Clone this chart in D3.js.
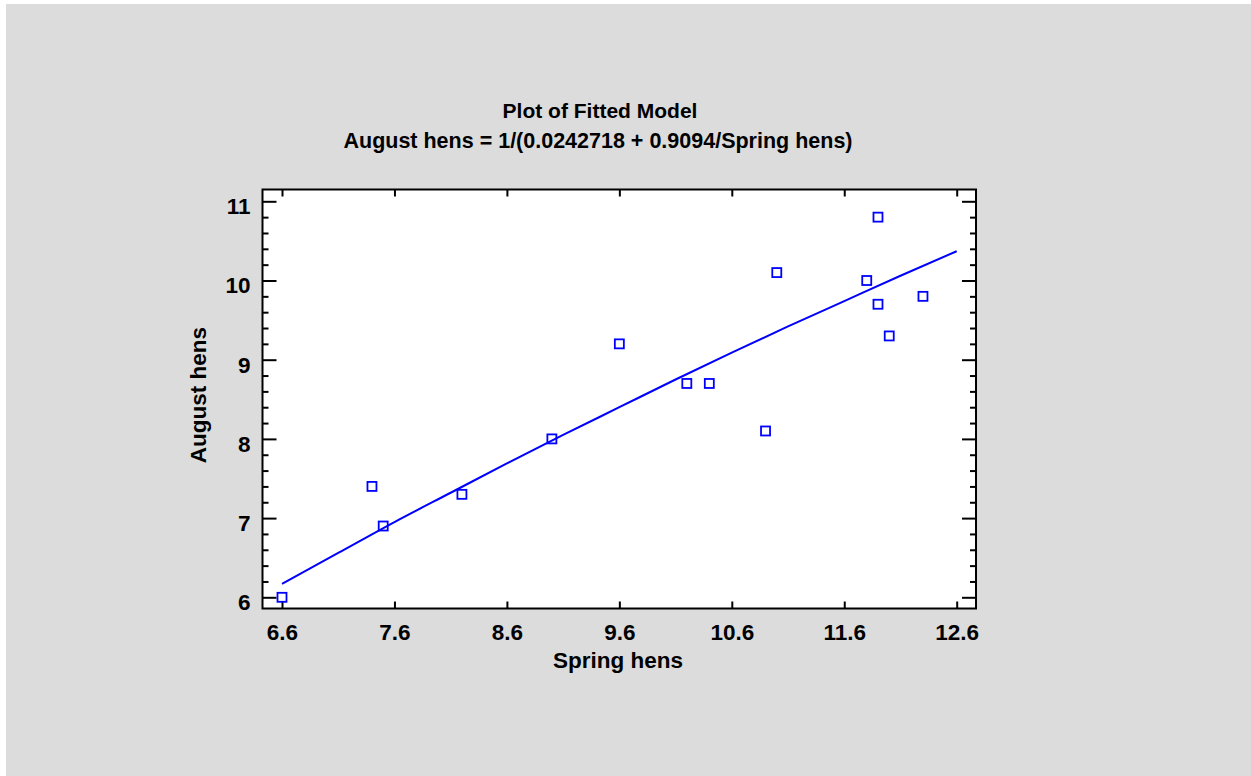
<!DOCTYPE html>
<html>
<head>
<meta charset="utf-8">
<title>Plot of Fitted Model</title>
<script src="https://d3js.org/d3.v7.min.js"></script>
<style>
  body { margin: 0; background: #ffffff; }
  text { font-family: "Liberation Sans", Arial, sans-serif; font-weight: bold; fill: #000; }
</style>
</head>
<body>
<div id="chart"></div>
<script>

// data
var springHens = [6.6, 7.4, 7.5, 8.2, 9.0, 9.6, 10.2, 10.4, 10.9, 11.0, 11.8, 11.9, 11.9, 12.0, 12.3];
var augustHens = [6.0, 7.4, 6.9, 7.3, 8.0, 9.2, 8.7, 8.7, 8.1, 10.1, 10.0, 10.8, 9.7, 9.3, 9.8];

// fitted curve
var fitX = [6.6, 7.1, 7.6, 8.1, 8.6, 9.1, 9.6, 10.1, 10.6, 11.1, 11.6, 12.1, 12.6];
var fitY = [6.17, 6.56, 6.95, 7.32, 7.69, 8.05, 8.40, 8.75, 9.09, 9.42, 9.74, 10.06, 10.37];

// tick labels
var xTicks = [6.6, 7.6, 8.6, 9.6, 10.6, 11.6, 12.6];
var yTicks = [6, 7, 8, 9, 10, 11];
var yMinor = [5.8, 6.2, 6.4, 6.6, 6.8, 7.2, 7.4, 7.6, 7.8, 8.2, 8.4, 8.6, 8.8,
              9.2, 9.4, 9.6, 9.8, 10.2, 10.4, 10.6, 10.8, 11.2];

var W = 1251, H = 776;
var frame = {left: 262.5, right: 976, top: 189.5, bottom: 608.5};

var svg = d3.select("#chart")
  .append("svg")
  .attr("width", W)
  .attr("height", H);

// page background
svg.append("rect").attr("width", W).attr("height", H).attr("fill", "#ffffff");
svg.append("rect").attr("x", 6).attr("y", 4).attr("width", W - 6).attr("height", H - 4).attr("fill", "#dcdcdc");

// plot area
svg.append("rect")
  .attr("x", frame.left).attr("y", frame.top)
  .attr("width", frame.right - frame.left)
  .attr("height", frame.bottom - frame.top)
  .attr("fill", "#ffffff");

var x = d3.scaleLinear().domain([6.6, 12.6]).range([282, 956.7]);
var y = d3.scaleLinear().domain([6, 11]).range([597.3, 201.3]);

// keep minor ticks inside the frame
var yMinorIn = yMinor.filter(function(v) { return y(v) > frame.top && y(v) < frame.bottom; });

// bottom axis
var gx = svg.append("g")
  .attr("transform", "translate(0," + frame.bottom + ")")
  .call(d3.axisBottom(x).tickValues(xTicks).tickFormat(d3.format(".1f")).tickSize(-7).tickPadding(16));
// top axis
svg.append("g")
  .attr("transform", "translate(0," + frame.top + ")")
  .call(d3.axisTop(x).tickValues(xTicks).tickFormat("").tickSize(-7));

// left axis
var gy = svg.append("g")
  .attr("transform", "translate(" + frame.left + ",0)")
  .call(d3.axisLeft(y).tickValues(yTicks).tickFormat(d3.format("d")).tickSize(-14).tickPadding(12));
svg.append("g")
  .attr("transform", "translate(" + frame.left + ",0)")
  .call(d3.axisLeft(y).tickValues(yMinorIn).tickFormat("").tickSize(-6));

// right axis
svg.append("g")
  .attr("transform", "translate(" + frame.right + ",0)")
  .call(d3.axisRight(y).tickValues(yTicks).tickFormat("").tickSize(-14));
svg.append("g")
  .attr("transform", "translate(" + frame.right + ",0)")
  .call(d3.axisRight(y).tickValues(yMinorIn).tickFormat("").tickSize(-6));

svg.selectAll(".domain").remove();
svg.selectAll(".tick line").attr("stroke", "#000").attr("stroke-width", 2);
svg.selectAll(".tick text")
  .style("font-size", "22.5px")
  .style("font-family", "'Liberation Sans', Arial, sans-serif")
  .style("font-weight", "bold");
gy.selectAll(".tick text").attr("dy", "0.55em");

// frame
svg.append("rect")
  .attr("x", frame.left).attr("y", frame.top)
  .attr("width", frame.right - frame.left)
  .attr("height", frame.bottom - frame.top)
  .attr("fill", "none")
  .attr("stroke", "#000")
  .attr("stroke-width", 2);

// fitted line
var fitData = fitX.map(function(v, i) { return [v, fitY[i]]; });
svg.append("path")
  .datum(fitData)
  .attr("fill", "none")
  .attr("stroke", "#0000ff")
  .attr("stroke-width", 2)
  .attr("d", d3.line()
    .x(function(d) { return x(d[0]); })
    .y(function(d) { return y(d[1]); })
    .curve(d3.curveMonotoneX));

// observed points
var pts = springHens.map(function(v, i) { return {sx: v, ay: augustHens[i]}; });
svg.selectAll(".pt")
  .data(pts)
  .enter()
  .append("rect")
  .attr("class", "pt")
  .attr("x", function(d) { return x(d.sx) - 4.5; })
  .attr("y", function(d) { return y(d.ay) - 4.5; })
  .attr("width", 9)
  .attr("height", 9)
  .attr("fill", "none")
  .attr("stroke", "#0000ff")
  .attr("stroke-width", 1.8);

// titles
svg.append("text")
  .attr("x", 600).attr("y", 118)
  .attr("text-anchor", "middle")
  .style("font-size", "21px")
  .text("Plot of Fitted Model");
svg.append("text")
  .attr("x", 598).attr("y", 148)
  .attr("text-anchor", "middle")
  .style("font-size", "21.5px")
  .text("August hens = 1/(0.0242718 + 0.9094/Spring hens)");

// axis labels
svg.append("text")
  .attr("x", 618).attr("y", 668)
  .attr("text-anchor", "middle")
  .style("font-size", "22.5px")
  .text("Spring hens");
svg.append("text")
  .attr("transform", "translate(206,395) rotate(-90)")
  .attr("text-anchor", "middle")
  .style("font-size", "22.5px")
  .text("August hens");

</script>
</body>
</html>
